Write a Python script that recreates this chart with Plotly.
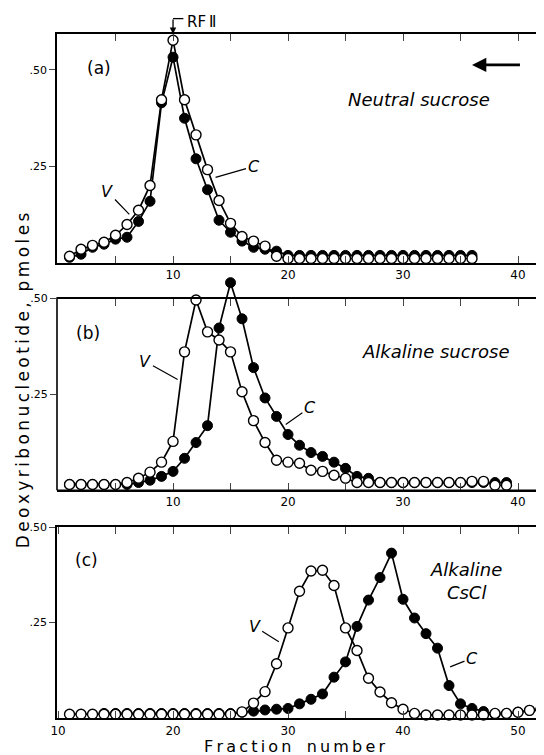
import plotly.graph_objects as go

# panel (a) neutral sucrose
a_frac = list(range(1, 37))
a_v = [0.018, 0.036, 0.046, 0.054, 0.072, 0.100, 0.137, 0.201, 0.423, 0.577,
       0.423, 0.332, 0.242, 0.162, 0.103, 0.069, 0.057, 0.044, 0.018] + [0.012] * 17
a_c = [0.015, 0.023, 0.041, 0.049, 0.062, 0.067, 0.108, 0.160, 0.415, 0.533,
       0.375, 0.270, 0.190, 0.111, 0.080, 0.057, 0.041, 0.036, 0.031] + [0.020] * 17

# panel (b) alkaline sucrose
b_frac = list(range(1, 40))
b_v = [0.015] * 5 + [0.020, 0.031, 0.047, 0.073, 0.127, 0.360, 0.495, 0.412, 0.391,
       0.360, 0.256, 0.181, 0.124, 0.078, 0.073, 0.070, 0.052, 0.049, 0.039, 0.031] \
      + [0.020] * 10 + [0.023, 0.023, 0.013, 0.013]
b_c = [0.015] * 6 + [0.020, 0.026, 0.036, 0.049, 0.083, 0.124, 0.168, 0.422, 0.540,
       0.446, 0.319, 0.240, 0.192, 0.145, 0.117, 0.098, 0.088, 0.073, 0.057, 0.036,
       0.031] + [0.020] * 12

# panel (c) alkaline CsCl
c_frac = list(range(11, 53))
c_v = [0.010] * 15 + [0.016, 0.039, 0.069, 0.142, 0.236, 0.332, 0.385, 0.387, 0.347,
       0.236, 0.177, 0.104, 0.068, 0.040, 0.023, 0.012] + [0.008] * 6 \
      + [0.012, 0.012, 0.015, 0.020, 0.022]
c_c = [None] * 3 + [0.012] * 12 + [0.015, 0.018, 0.021, 0.023, 0.025, 0.037, 0.049,
       0.063, 0.107, 0.147, 0.240, 0.309, 0.368, 0.432, 0.311, 0.262, 0.221, 0.183,
       0.085, 0.037, 0.025, 0.017, 0.010, 0.012, 0.015, 0.020, 0.022]

FONT = "DejaVu Sans"
TS = "\u2009"  # thin space, to get the wide lettering of the original
fig = go.Figure()


def spaced(s):
    return TS.join(s)


def add_pair(x, v, c, ax):
    fig.add_trace(go.Scatter(x=x, y=c, mode="lines+markers", xaxis="x" + ax, yaxis="y" + ax,
                             line=dict(color="black", width=1.7), cliponaxis=False,
                             marker=dict(symbol="circle", size=10, color="black",
                                         line=dict(color="black", width=1))))
    fig.add_trace(go.Scatter(x=x, y=v, mode="lines+markers", xaxis="x" + ax, yaxis="y" + ax,
                             line=dict(color="black", width=1.7), cliponaxis=False,
                             marker=dict(symbol="circle", size=10, color="white",
                                         line=dict(color="black", width=1.4))))


add_pair(a_frac, a_v, a_c, "")
add_pair(b_frac, b_v, b_c, "2")
add_pair(c_frac, c_v, c_c, "3")
# empty trace so the top frame axis of panel (b) is drawn
fig.add_trace(go.Scatter(x=[None], y=[None], xaxis="x4", yaxis="y2", hoverinfo="skip"))

xbase = dict(ticks="inside", ticklen=7, tickwidth=1.3, mirror="ticks", showline=True,
             linecolor="black", linewidth=1.6, showgrid=False, zeroline=False,
             tickfont=dict(family=FONT, size=12, color="black"))
ybase = dict(ticks="outside", ticklen=6, tickwidth=1.3, mirror=True, showline=True,
             linecolor="black", linewidth=1.6, showgrid=False, zeroline=False,
             tickvals=[0.25, 0.5], ticktext=[".25", ".50"],
             tickfont=dict(family=FONT, size=11, color="black"))

ab_ticks = list(range(5, 45, 5))
ab_text = [str(t) if t % 10 == 0 else "" for t in ab_ticks]
c_ticks = list(range(10, 55, 5))
c_text = [str(t) if t % 10 == 0 else "" for t in c_ticks]

fig.update_layout(
    width=544, height=755,
    margin=dict(l=49, r=9, t=26, b=45),
    paper_bgcolor="white", plot_bgcolor="white",
    showlegend=False,
    xaxis=dict(xbase, domain=[0, 1], range=[-0.09, 42.0], anchor="y",
               tickvals=ab_ticks, ticktext=ab_text),
    yaxis=dict(ybase, domain=[0.665, 1], range=[0, 0.593], anchor="x"),
    # panel (b): axis runs a bit above .50 so the C peak is not cut, frame drawn at .50
    xaxis2=dict(xbase, domain=[0, 1], range=[-0.09, 42.0], anchor="y2", mirror=False,
                tickvals=ab_ticks, ticktext=ab_text),
    yaxis2=dict(ybase, domain=[0.333, 0.6477], range=[0, 0.56], anchor="x2",
                showline=False, mirror=False),
    xaxis4=dict(xbase, overlaying="x2", side="top", anchor="free", position=0.614,
                range=[-0.09, 42.0], mirror=False, tickvals=ab_ticks,
                ticktext=[""] * len(ab_ticks)),
    xaxis3=dict(xbase, domain=[0, 1], range=[9.91, 52.0], anchor="y3",
                tickvals=c_ticks, ticktext=c_text, ticklabelstandoff=1),
    yaxis3=dict(ybase, domain=[0, 0.279], range=[0, 0.5], anchor="x3"),
)
fig.add_shape(type="rect", xref="x2 domain", yref="y2", x0=0, x1=1, y0=0, y1=0.5,
              line=dict(color="black", width=1.6), layer="above")

lab = dict(family=FONT, size=17, color="black")
ital = dict(family=FONT, size=18, color="black", style="italic")
vc = dict(family=FONT, size=16, color="black", style="italic")


def label(text, x, y, ax, font, **kw):
    fig.add_annotation(text=text, x=x, y=y, xref="x" + ax, yref="y" + ax,
                       showarrow=False, font=font, **kw)


def pointer(text, x, y, tx, ty, ax):
    fig.add_annotation(text=text, x=x, y=y, ax=tx, ay=ty, xref="x" + ax, yref="y" + ax,
                       axref="x" + ax, ayref="y" + ax, showarrow=True, arrowhead=0,
                       arrowwidth=1.2, arrowcolor="black", font=vc)


# panel a
label("(a)", 3.6, 0.505, "", lab)
label("Neutral sucrose", 31.4, 0.423, "", ital)
pointer("V", 6.2, 0.126, 4.3, 0.185, "")
pointer("C", 13.7, 0.222, 17.0, 0.25, "")
fig.add_annotation(x=36.0, y=0.513, ax=40.3, ay=0.513, xref="x", yref="y", axref="x",
                   ayref="y", text="", showarrow=True, arrowhead=2, arrowsize=1.1,
                   arrowwidth=2.6, arrowcolor="black")
fig.add_annotation(x=10, y=0.593, ax=0, ay=-16, xref="x", yref="y", text="",
                   showarrow=True, arrowhead=2, arrowsize=1, arrowwidth=1.3,
                   arrowcolor="black")
fig.add_shape(type="line", x0=10, x1=10.9, y0=1.0225, y1=1.0225, xref="x", yref="paper",
              line=dict(color="black", width=1.3))
fig.add_annotation(text="RF\u2009\u2161", x=11.0, y=1.0175, xref="x", yref="paper",
                   xanchor="left", yanchor="middle", showarrow=False,
                   font=dict(family=FONT, size=15, color="black"))

# panel b
label("(b)", 2.6, 0.41, "2", lab)
label("Alkaline sucrose", 32.9, 0.36, "2", ital)
pointer("V", 10.4, 0.288, 7.6, 0.335, "2")
pointer("C", 19.8, 0.171, 21.9, 0.215, "2")

# panel c
label("(c)", 12.5, 0.415, "3", lab)
label("Alkaline<br>CsCl", 45.5, 0.36, "3", ital)
pointer("V", 29.2, 0.2, 27.1, 0.24, "3")
pointer("C", 44.1, 0.134, 46.0, 0.157, "3")

# axis titles
fig.add_annotation(text=spaced("Deoxyribonucleotide,") + "  " + spaced("pmoles"),
                   x=-0.07, y=0.494, xref="paper", yref="paper", textangle=-90,
                   showarrow=False, yanchor="middle", xanchor="center",
                   font=dict(family=FONT, size=17, color="black"))
fig.add_annotation(text=spaced("Fraction") + "   " + spaced("number"),
                   x=0.492, y=-0.041, xref="paper", yref="paper",
                   showarrow=False, yanchor="middle", xanchor="center",
                   font=dict(family=FONT, size=16, color="black"))

fig.write_html("out.html")
